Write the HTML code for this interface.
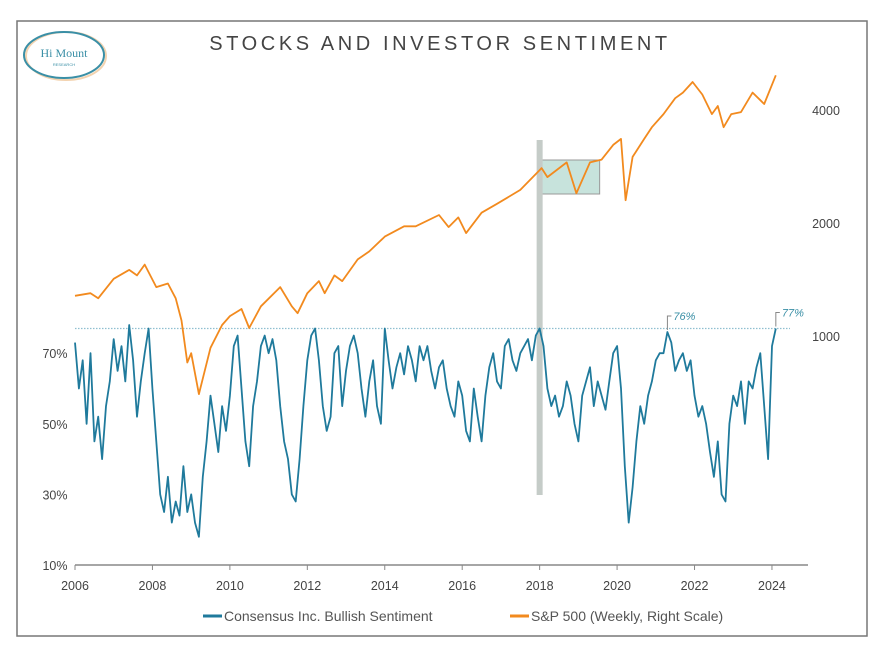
<!DOCTYPE html>
<html><head><meta charset="utf-8"><style>
body{margin:0;background:#fff;}
svg{display:block;font-family:"Liberation Sans",sans-serif;}
</style></head><body>
<svg width="883" height="655">
<rect x="17" y="21" width="850" height="615" fill="#fff" stroke="#777" stroke-width="1.5"/>
<g>
<ellipse cx="66" cy="56" rx="40" ry="24" fill="none" stroke="#f3d3b0" stroke-width="2"/>
<ellipse cx="64" cy="55" rx="40" ry="23" fill="none" stroke="#3a8fa6" stroke-width="2"/>
<text x="64" y="57" text-anchor="middle" font-size="12" font-family="Liberation Serif,serif" fill="#3a8fa6">Hi Mount</text>
<text x="64" y="66" text-anchor="middle" font-size="4" fill="#3a8fa6">RESEARCH</text>
</g>
<text x="440" y="50" text-anchor="middle" font-size="20" letter-spacing="3.6" fill="#444">STOCKS AND INVESTOR SENTIMENT</text>
<g id="plot"></g>
<g>
<line x1="203" y1="616" x2="222" y2="616" stroke="#1f7a9c" stroke-width="3"/>
<text x="224" y="621" font-size="14" fill="#555">Consensus Inc. Bullish Sentiment</text>
<line x1="510" y1="616" x2="529" y2="616" stroke="#f28a1e" stroke-width="3"/>
<text x="531" y="621" font-size="14" fill="#555">S&amp;P 500 (Weekly, Right Scale)</text>
</g>
</svg>
<script>
const xTicks=[2006,2008,2010,2012,2014,2016,2018,2020,2022,2024];
const leftTicks=[10,30,50,70];
const rightTicks=[1000,2000,4000];
const sentDates=[2006.0,2006.1,2006.2,2006.3,2006.4,2006.5,2006.6,2006.7,2006.8,2006.9,2007.0,2007.1,2007.2,2007.3,2007.4,2007.5,2007.6,2007.7,2007.8,2007.9,2008.0,2008.1,2008.2,2008.3,2008.4,2008.5,2008.6,2008.7,2008.8,2008.9,2009.0,2009.1,2009.2,2009.3,2009.4,2009.5,2009.6,2009.7,2009.8,2009.9,2010.0,2010.1,2010.2,2010.3,2010.4,2010.5,2010.6,2010.7,2010.8,2010.9,2011.0,2011.1,2011.2,2011.3,2011.4,2011.5,2011.6,2011.7,2011.8,2011.9,2012.0,2012.1,2012.2,2012.3,2012.4,2012.5,2012.6,2012.7,2012.8,2012.9,2013.0,2013.1,2013.2,2013.3,2013.4,2013.5,2013.6,2013.7,2013.8,2013.9,2014.0,2014.1,2014.2,2014.3,2014.4,2014.5,2014.6,2014.7,2014.8,2014.9,2015.0,2015.1,2015.2,2015.3,2015.4,2015.5,2015.6,2015.7,2015.8,2015.9,2016.0,2016.1,2016.2,2016.3,2016.4,2016.5,2016.6,2016.7,2016.8,2016.9,2017.0,2017.1,2017.2,2017.3,2017.4,2017.5,2017.6,2017.7,2017.8,2017.9,2018.0,2018.1,2018.2,2018.3,2018.4,2018.5,2018.6,2018.7,2018.8,2018.9,2019.0,2019.1,2019.2,2019.3,2019.4,2019.5,2019.6,2019.7,2019.8,2019.9,2020.0,2020.1,2020.2,2020.3,2020.4,2020.5,2020.6,2020.7,2020.8,2020.9,2021.0,2021.1,2021.2,2021.3,2021.4,2021.5,2021.6,2021.7,2021.8,2021.9,2022.0,2022.1,2022.2,2022.3,2022.4,2022.5,2022.6,2022.7,2022.8,2022.9,2023.0,2023.1,2023.2,2023.3,2023.4,2023.5,2023.6,2023.7,2023.8,2023.9,2024.0,2024.1];
const sentValues=[73,60,68,50,70,45,52,40,55,62,74,65,72,62,78,68,52,62,70,77,60,45,30,25,35,22,28,24,38,25,30,22,18,35,45,58,50,42,55,48,58,72,75,60,45,38,55,62,72,75,70,74,68,55,45,40,30,28,40,55,68,75,77,68,55,48,52,70,72,55,65,72,75,70,60,52,62,68,55,50,77,68,60,66,70,64,72,68,62,72,68,72,65,60,66,68,60,55,52,62,58,48,45,60,52,45,58,66,70,62,60,72,74,68,65,70,72,74,68,75,77,72,60,55,58,52,55,62,58,50,45,58,62,66,55,62,58,54,62,70,72,60,38,22,32,45,55,50,58,62,68,70,70,76,73,65,68,70,65,68,58,52,55,50,42,35,45,30,28,50,58,55,62,50,62,60,66,70,55,40,72,77];
const spDates=[2006.0,2006.4,2006.6,2007.0,2007.4,2007.6,2007.8,2008.1,2008.4,2008.6,2008.75,2008.9,2009.0,2009.2,2009.5,2009.8,2010.0,2010.3,2010.5,2010.8,2011.3,2011.6,2011.75,2012.0,2012.3,2012.45,2012.7,2012.9,2013.3,2013.6,2014.0,2014.5,2014.8,2015.4,2015.65,2015.9,2016.1,2016.5,2016.9,2017.5,2018.05,2018.2,2018.7,2018.95,2019.3,2019.6,2019.9,2020.1,2020.22,2020.4,2020.7,2020.9,2021.2,2021.5,2021.7,2021.95,2022.2,2022.45,2022.6,2022.75,2022.95,2023.2,2023.5,2023.8,2024.1];
const spValues=[1280,1300,1260,1420,1500,1450,1550,1350,1380,1260,1100,850,900,700,930,1070,1130,1180,1050,1200,1350,1200,1150,1300,1400,1300,1450,1400,1600,1680,1840,1960,1960,2100,1950,2070,1880,2130,2250,2450,2800,2650,2900,2400,2900,2950,3230,3350,2300,3000,3350,3600,3900,4300,4450,4750,4400,3900,4100,3600,3900,3950,4450,4150,4950];
const refLevel=77;

const NS="http://www.w3.org/2000/svg";
const plot=document.getElementById('plot');
const xS=y=>75+(y-2006)*38.72;
const yL=v=>565-(v-10)*3.53;
const yR=v=>336-Math.log2(v/1000)*113;
function mk(t,a){const e=document.createElementNS(NS,t);for(const k in a)e.setAttribute(k,a[k]);plot.appendChild(e);return e;}

let e=mk('rect',{x:xS(2018),y:160,width:xS(2019.55)-xS(2018),height:34,fill:'#b9dcd3',stroke:'#999','fill-opacity':0.8});


e=mk('rect',{x:xS(2018)-3,y:140,width:6,height:355,fill:'#c5ccc8'});



e=mk('line',{x1:75,y1:565,x2:808,y2:565,stroke:'#888','stroke-width':1.5});


xTicks.forEach(t=>{
  mk('line',{x1:xS(t),y1:565,x2:xS(t),y2:570,stroke:'#888'});
  const tx=mk('text',{x:xS(t),y:590,'text-anchor':'middle','font-size':12.5,fill:'#444'});
  tx.textContent=t;
  
  
});
leftTicks.forEach(t=>{
  const tx=mk('text',{x:55,y:yL(t)+5,'text-anchor':'middle','font-size':12.5,fill:'#444'});
  tx.textContent=t+'%';
  
  
});
rightTicks.forEach(t=>{
  const tx=mk('text',{x:826,y:yR(t)+5,'text-anchor':'middle','font-size':12.5,fill:'#444'});
  tx.textContent=t;
  
  
});

e=mk('line',{x1:75,y1:yL(refLevel),x2:790,y2:yL(refLevel),stroke:'#8fbfd0','stroke-width':1.2,'stroke-dasharray':'1.5,1.5'});



e=mk('path',{d:spDates.map((d,i)=>(i?'L':'M')+xS(d).toFixed(1)+','+yR(spValues[i]).toFixed(1)).join(''),fill:'none',stroke:'#f28a1e','stroke-width':1.8,'stroke-linejoin':'round'});


e=mk('path',{d:sentDates.map((d,i)=>(i?'L':'M')+xS(d).toFixed(1)+','+yL(sentValues[i]).toFixed(1)).join(''),fill:'none',stroke:'#1f7a9c','stroke-width':1.8,'stroke-linejoin':'round'});



[[2021.3,76,'76%'],[2024.1,77,'77%']].forEach(a=>{
  const x=xS(a[0]),y=yL(a[1]);
  mk('path',{d:`M${x},${y-2}L${x},${y-16}L${x+4},${y-16}`,fill:'none',stroke:'#888','stroke-width':1});
  const tx=mk('text',{x:x+6,y:y-12,'font-size':11,fill:'#3a8fa6','font-style':'italic'});
  tx.textContent=a[2];
  
  
});
</script>
</body></html>
